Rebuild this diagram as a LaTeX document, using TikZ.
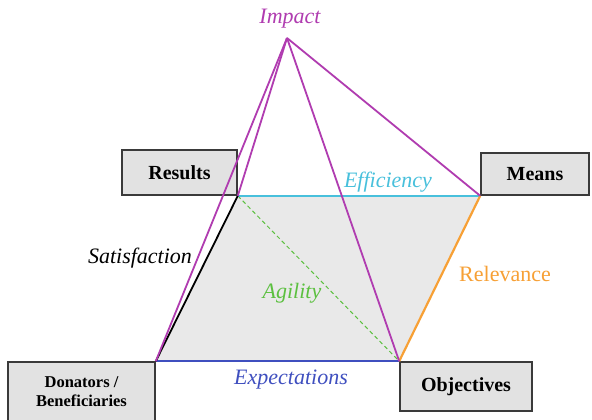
\documentclass[tikz,border=0pt]{standalone}
\usepackage{fontspec}
\setmainfont{Liberation Serif}
\definecolor{impactc}{HTML}{B03CB0}
\definecolor{effc}{HTML}{48C0DC}
\definecolor{agilc}{HTML}{5CC040}
\definecolor{relc}{HTML}{F7A035}
\definecolor{expc}{HTML}{3F4FBF}
\definecolor{quadfill}{HTML}{E9E9E9}
\definecolor{boxfill}{HTML}{E2E2E2}
\definecolor{boxdraw}{HTML}{3A3A3A}
\begin{document}
\begin{tikzpicture}[x=1pt,y=-1pt,
  box/.style={draw=boxdraw, line width=1.6pt, fill=boxfill, inner sep=0pt, font=\fontsize{20}{22}\selectfont\bfseries},
  lbl/.style={font=\fontsize{22}{24}\selectfont\itshape, inner sep=0pt},
  edge/.style={line width=1.8pt},
]
\useasboundingbox (0,0) rectangle (592,420);
\fill[white] (0,0) rectangle (592,420);
% boxes
\node[box, minimum width=115pt, minimum height=45pt] (res) at (179.5,172.5) {Results};
\node[box, minimum width=108pt, minimum height=42pt] (mea) at (535,174) {Means};
\node[box, minimum width=147pt, minimum height=62pt] (don) at (81.5,393) {\raisebox{5pt}{\fontsize{16.5}{19}\selectfont\begin{tabular}{@{}c@{}}Donators /\\Beneficiaries\end{tabular}}};
\node[box, minimum width=132pt, minimum height=49pt] (obj) at (466,386.5) {Objectives};
\coordinate (apex) at (287,38);
% quad fill
\fill[quadfill] (res.south east) -- (mea.south west) -- (obj.north west) -- (don.north east) -- cycle;
% edges
\draw[agilc, line width=1pt, dashed, dash pattern=on 4pt off 3pt] (res.south east) -- (obj.north west);
\draw[effc, edge] (res.south east) -- (mea.south west);
\draw[expc, edge] (don.north east) -- (obj.north west);
\draw[relc, edge, line width=2.2pt] (mea.south west) -- (obj.north west);
\draw[black, edge] (res.south east) -- (don.north east);
\draw[impactc, edge] (apex) -- (don.north east);
\draw[impactc, edge] (apex) -- (res.south east);
\draw[impactc, edge] (apex) -- (obj.north west);
\draw[impactc, edge] (apex) -- (mea.south west);
% labels
\node[lbl, impactc] (limp) at (290,19) {Impact};
\node[lbl, effc] (leff) at (388,182) {Efficiency};
\node[lbl, black] (lsat) at (140,258) {Satisfaction};
\node[lbl, agilc] (lagi) at (292,293) {Agility};
\node[lbl, relc, font=\fontsize{22}{24}\selectfont\upshape] (lrel) at (505,274) {Relevance};
\node[lbl, expc] (lexp) at (291,380) {Expectations};
\end{tikzpicture}
\end{document}
